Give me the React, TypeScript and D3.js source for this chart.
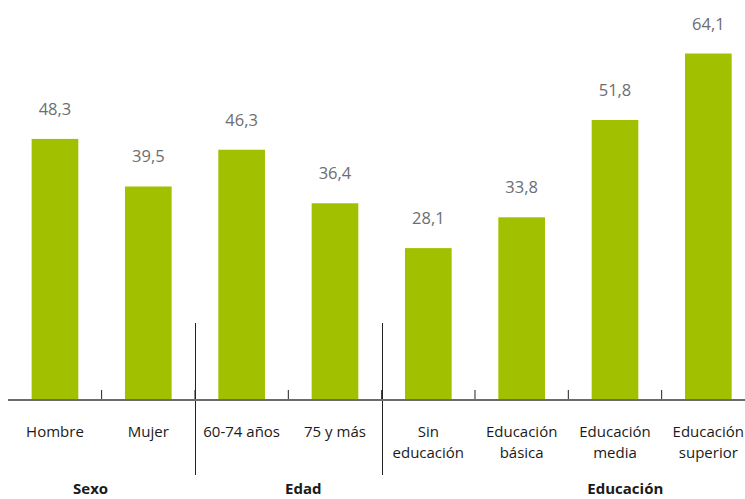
import React, { useEffect, useRef } from "react";
import * as d3 from "d3";

// categories (line breaks marked with \n)
const categories = [
  "Hombre",
  "Mujer",
  "60-74 años",
  "75 y más",
  "Sin\neducación",
  "Educación\nbásica",
  "Educación\nmedia",
  "Educación\nsuperior",
];
const values = [48.3, 39.5, 46.3, 36.4, 28.1, 33.8, 51.8, 64.1];
const groupNames = ["Sexo", "Edad", "Educación"];
const groupSizes = [2, 2, 4];

const App = () => {
  const ref = useRef<SVGSVGElement>(null);

  useEffect(() => {
    const width = 745;
    const height = 499;
    const baseY = 400;

    const svg = d3.select(ref.current);
    svg.selectAll("*").remove();

    const x = d3
      .scaleBand()
      .domain(categories)
      .range([8.3, 755])
      .paddingInner(0.5)
      .paddingOuter(0.25);

    const y = d3.scaleLinear().domain([0, 74]).range([baseY, 0]);

    const font = "'Open Sans', sans-serif";

    svg
      .selectAll("rect.bar")
      .data(values)
      .join("rect")
      .attr("class", "bar")
      .attr("x", (d, i) => x(categories[i]))
      .attr("y", (d) => y(d))
      .attr("width", x.bandwidth())
      .attr("height", (d) => baseY - y(d))
      .attr("fill", "#a1c100");

    svg
      .selectAll("text.val")
      .data(values)
      .join("text")
      .attr("class", "val")
      .attr("x", (d, i) => x(categories[i]) + x.bandwidth() / 2)
      .attr("y", (d) => y(d) - 24)
      .attr("text-anchor", "middle")
      .attr("font-family", font)
      .attr("font-size", 16.5)
      .attr("fill", "#6d6e71")
      .text((d) => d3.format(".1f")(d).replace(".", ","));

    const step = x.step();

    // small ticks between bars
    categories.slice(1).forEach((c) => {
      const tx = x(c) - (step - x.bandwidth()) / 2;
      svg
        .append("line")
        .attr("x1", tx)
        .attr("x2", tx)
        .attr("y1", baseY - 10)
        .attr("y2", baseY)
        .attr("stroke", "#222")
        .attr("stroke-width", 1);
    });

    // group separators and group titles
    const groupOffsets = [-11, 15, 57];
    let start = 0;
    groupNames.forEach((g, gi) => {
      const first = categories[start];
      const last = categories[start + groupSizes[gi] - 1];
      const left = x(first) - (step - x.bandwidth()) / 2;
      const right = x(last) + x.bandwidth() + (step - x.bandwidth()) / 2;
      if (gi > 0) {
        svg
          .append("line")
          .attr("x1", Math.round(left) + 0.5)
          .attr("x2", Math.round(left) + 0.5)
          .attr("y1", 323)
          .attr("y2", 475)
          .attr("stroke", "#222")
          .attr("stroke-width", 1);
      }
      svg
        .append("text")
        .attr("x", (left + right) / 2 + groupOffsets[gi])
        .attr("y", 494)
        .attr("text-anchor", "middle")
        .attr("font-family", font)
        .attr("font-weight", "bold")
        .attr("font-size", 15)
        .attr("fill", "#1a1a1a")
        .text(g);
      start += groupSizes[gi];
    });

    // axis line
    svg
      .append("line")
      .attr("x1", 8)
      .attr("x2", width)
      .attr("y1", baseY)
      .attr("y2", baseY)
      .attr("stroke", "#6b6b6b")
      .attr("stroke-width", 2);

    // category labels
    categories.forEach((c) => {
      const t = svg
        .append("text")
        .attr("x", x(c) + x.bandwidth() / 2)
        .attr("y", 437)
        .attr("text-anchor", "middle")
        .attr("font-family", font)
        .attr("font-size", 15)
        .attr("fill", "#1a1a1a");
      c.split("\n").forEach((line, li) => {
        t.append("tspan")
          .attr("x", x(c) + x.bandwidth() / 2)
          .attr("dy", li === 0 ? 0 : 21)
          .text(line);
      });
    });

    svg.attr("width", width).attr("height", height);
  }, []);

  return (
    <svg
      ref={ref}
      style={{ position: "absolute", left: 0, top: 0, background: "#fff" }}
    ></svg>
  );
};

export default App;
